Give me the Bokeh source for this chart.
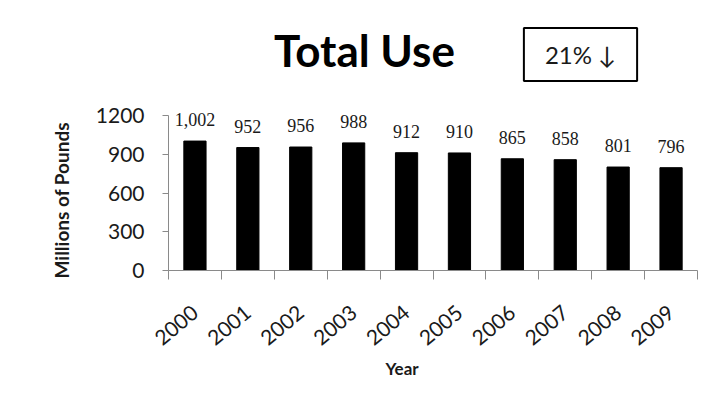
import math
from bokeh.plotting import figure
from bokeh.models import Range1d, FixedTicker, Label, LabelSet, ColumnDataSource, Title
from bokeh.embed import file_html
from bokeh.resources import INLINE

# Total pesticide use by year, millions of pounds
years = ["2000", "2001", "2002", "2003", "2004", "2005", "2006", "2007", "2008", "2009"]
use_millions_lbs = [1002, 952, 956, 988, 912, 910, 865, 858, 801, 796]
y_ticks = [0, 300, 600, 900, 1200]
change_text = "21% \u2193"

SANS = "Lato"
SERIF = "DejaVu Serif"
AXIS_GREY = "#8a8a8a"
TEXT = "#1a1a1a"

W, H = 720, 412
# plot frame runs from the top of the canvas down to the category axis;
# the value axis itself stops at 1200 (canvas y = 115)
FRAME_L, FRAME_R, FRAME_T, FRAME_B = 168, 697, 0, 270
AXIS_TOP_PX = 115
Y_MAX = 1200
Y_END = Y_MAX * (FRAME_B - FRAME_T) / (FRAME_B - AXIS_TOP_PX)


def fx(cx):
    """canvas x -> frame-relative screen x"""
    return cx - FRAME_L


def fy(cy):
    """canvas y (from top) -> frame-relative screen y (from frame bottom)"""
    return FRAME_B - cy


centers = [i + 0.5 for i in range(len(years))]
src = ColumnDataSource(dict(
    x=centers,
    top=use_millions_lbs,
    label=[f"{v:,}" for v in use_millions_lbs],
))

p = figure(width=W, height=H, output_backend="svg", toolbar_location=None,
           x_range=Range1d(0, len(years)), y_range=Range1d(0, Y_END),
           min_border_left=FRAME_L, min_border_right=W - FRAME_R,
           min_border_top=FRAME_T, min_border_bottom=H - FRAME_B)
p.outline_line_color = None
p.grid.grid_line_color = None
p.background_fill_color = "white"
p.border_fill_color = "white"

p.vbar(x="x", top="top", width=0.42, bottom=0, source=src,
       fill_color="black", line_color="black")

labels = LabelSet(x="x", y="top", text="label", source=src, y_offset=15,
                  text_align="center", text_baseline="alphabetic",
                  text_font=SERIF, text_font_size="18px", text_color=TEXT)
p.add_layout(labels)

# y axis
ya = p.yaxis[0]
ya.bounds = (0, Y_MAX)
ya.ticker = FixedTicker(ticks=y_ticks, minor_ticks=[])
ya.axis_line_color = AXIS_GREY
ya.major_tick_line_color = AXIS_GREY
ya.major_tick_out = 6
ya.major_tick_in = 0
ya.minor_tick_line_color = None
ya.major_label_text_font = SANS
ya.major_label_text_font_size = "21px"
ya.major_label_text_color = TEXT
ya.major_label_standoff = 18

# x axis: tick marks at category boundaries, labels at category centres
xa = p.xaxis[0]
xa.ticker = FixedTicker(ticks=centers, minor_ticks=list(range(len(years) + 1)))
xa.major_label_overrides = {c: y for c, y in zip(centers, years)}
xa.axis_line_color = AXIS_GREY
xa.major_tick_line_color = None
xa.major_tick_out = 0
xa.major_tick_in = 0
xa.minor_tick_line_color = AXIS_GREY
xa.minor_tick_out = 9
xa.minor_tick_in = 0
xa.major_label_orientation = math.radians(40)
xa.major_label_text_font = SANS
xa.major_label_text_font_size = "21px"
xa.major_label_text_color = TEXT
xa.major_label_standoff = 30

# axis titles, placed in the side panels
p.add_layout(Title(text="Millions of Pounds", align="left", offset=-8,
                   standoff=40, text_font=SANS, text_font_style="bold",
                   text_font_size="19px", text_color=TEXT), "left")
p.add_layout(Title(text="Year", align="left", offset=217,
                   standoff=0, text_font=SANS, text_font_style="bold",
                   text_font_size="17px", text_color=TEXT), "below")

p.add_layout(Label(x=fx(364), y=fy(49), x_units="screen", y_units="screen",
                   text="Total Use", text_align="center", text_baseline="alphabetic",
                   text_font=SANS, text_font_style="bold", text_font_size="44px",
                   text_color="black"))

# change-over-decade badge: text with a framed box around it
p.add_layout(Label(x=fx(580), y=fy(54), x_units="screen", y_units="screen",
                   text=change_text, text_align="center", text_baseline="middle",
                   text_font=SANS, text_font_size="24px", text_color=TEXT,
                   padding=dict(left=21, right=21, top=12, bottom=12),
                   background_fill_color="white",
                   border_line_color="black", border_line_width=2))

open("out.html", "w").write(file_html(p, INLINE))
